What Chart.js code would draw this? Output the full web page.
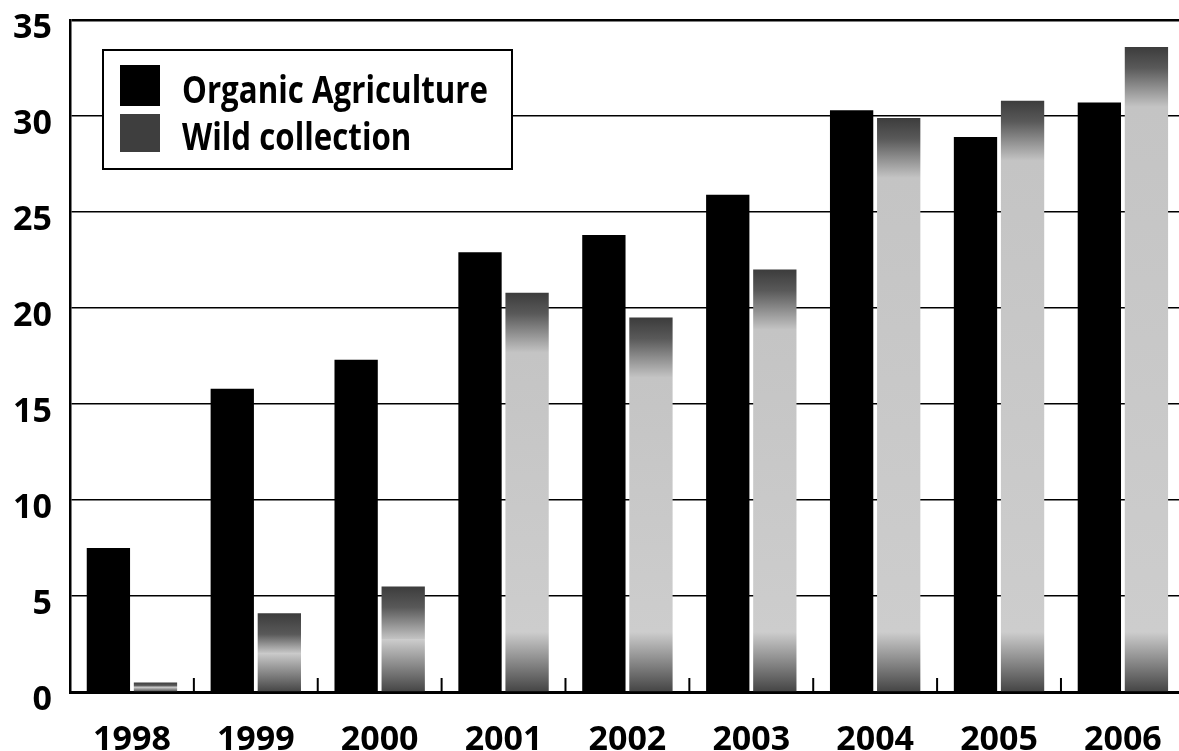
<!DOCTYPE html>
<html>
<head>
<meta charset="utf-8">
<script src="https://cdn.jsdelivr.net/npm/chart.js@4/dist/chart.umd.min.js"></script>
<style>
html,body{margin:0;padding:0;background:#fff;overflow:hidden;}
#wrap{width:1190px;height:751px;}
</style>
</head>
<body>
<div id="wrap"><canvas id="c" width="1190" height="751"></canvas></div>
<script>
const years = ['1998','1999','2000','2001','2002','2003','2004','2005','2006'];
const organicAgriculture = [7.5, 15.8, 17.3, 22.9, 23.8, 25.9, 30.3, 28.9, 30.7];
const wildCollection = [0.5, 4.1, 5.5, 20.8, 19.5, 22.0, 29.9, 30.8, 33.6];
const yTicks = [0, 5, 10, 15, 20, 25, 30, 35];
const seriesLabels = ['Organic Agriculture', 'Wild collection'];

const FONT = '"Open Sans", "DejaVu Sans", sans-serif';

function wildFill(c) {
  const chart = c.chart;
  const ys = chart.scales && chart.scales.y;
  if (!ys || c.raw === undefined) return '#888';
  const top = ys.getPixelForValue(c.raw);
  const base = ys.getPixelForValue(0);
  if (!isFinite(top) || !isFinite(base) || base - top < 1) return '#555';
  const g = chart.ctx.createLinearGradient(0, top, 0, base);
  const h = base - top;
  const edge = Math.min(0.45, 30 / h);
  g.addColorStop(0, '#3c3c3c');
  g.addColorStop(edge * 0.7, '#595959');
  g.addColorStop(Math.min(0.5, edge * 2.0), '#c4c4c4');
  g.addColorStop(Math.max(0.5, 1 - edge * 2.0), '#cdcdcd');
  g.addColorStop(1, '#444444');
  return g;
}

const innerTicks = {
  id: 'innerTicks',
  afterDatasetsDraw(chart) {
    const xs = chart.scales.x, ctx = chart.ctx;
    const bottom = chart.chartArea.bottom;
    ctx.save();
    ctx.strokeStyle = '#000';
    ctx.lineWidth = 2;
    for (let i = 0; i < years.length - 1; i++) {
      const x = (xs.getPixelForTick(i) + xs.getPixelForTick(i + 1)) / 2;
      ctx.beginPath();
      ctx.moveTo(x, bottom);
      ctx.lineTo(x, bottom - 14);
      ctx.stroke();
    }
    ctx.restore();
  }
};

const boxLegend = {
  id: 'boxLegend',
  afterDatasetsDraw(chart) {
    const ctx = chart.ctx;
    const bx = 103, by = 50, bw = 409, bh = 119;
    ctx.save();
    ctx.fillStyle = '#fff';
    ctx.fillRect(bx, by, bw, bh);
    ctx.strokeStyle = '#000';
    ctx.lineWidth = 2;
    ctx.strokeRect(bx, by, bw, bh);
    const swatches = ['#000', '#3e3e3e'];
    const rows = [{sy: 65, sh: 41, base: 103}, {sy: 114, sh: 38, base: 150}];
    ctx.font = 'bold 38px ' + FONT;
    ctx.textBaseline = 'alphabetic';
    const target = 306;
    const w0 = ctx.measureText(chart.data.datasets[0].label).width;
    const sx = target / w0;
    chart.data.datasets.forEach((ds, i) => {
      const r = rows[i];
      ctx.fillStyle = swatches[i];
      ctx.fillRect(120, r.sy, 40, r.sh);
      ctx.fillStyle = '#000';
      ctx.save();
      ctx.translate(182, r.base);
      ctx.scale(sx, 1);
      ctx.fillText(ds.label, 0, 0);
      ctx.restore();
    });
    ctx.restore();
  }
};

new Chart(document.getElementById('c'), {
  type: 'bar',
  data: {
    labels: years,
    datasets: [
      { label: seriesLabels[0], data: organicAgriculture, backgroundColor: '#000', borderWidth: 0 },
      { label: seriesLabels[1], data: wildCollection, backgroundColor: wildFill, borderWidth: 0 }
    ]
  },
  options: {
    responsive: false,
    animation: false,
    devicePixelRatio: 1,
    categoryPercentage: 0.76,
    barPercentage: 0.92,
    layout: { padding: { top: 20, right: 4, left: 0, bottom: 0 } },
    plugins: { legend: { display: false }, tooltip: { enabled: false }, title: { display: false } },
    scales: {
      x: {
        grid: { display: false, drawTicks: false },
        border: { display: true, color: '#000', width: 3 },
        ticks: { color: '#000', font: { family: FONT, size: 34, weight: 'bold' }, padding: 28, maxRotation: 0, autoSkip: false },
        afterFit(s) { s.height = 59; }
      },
      y: {
        min: 0, max: 35,
        afterBuildTicks(s) { s.ticks = yTicks.map(v => ({ value: v })); },
        grid: {
          color: '#000',
          lineWidth: (c) => (c.tick && c.tick.value === 35 ? 2.5 : 1.5),
          drawTicks: false
        },
        border: { display: true, color: '#000', width: 2.5 },
        ticks: { color: '#000', font: { family: FONT, size: 34, weight: 'bold' }, padding: 18, labelOffset: 8 },
        afterFit(s) { s.width = 70; s.paddingTop = 0; s.paddingBottom = 0; }
      }
    }
  },
  plugins: [innerTicks, boxLegend]
});
</script>
</body>
</html>
